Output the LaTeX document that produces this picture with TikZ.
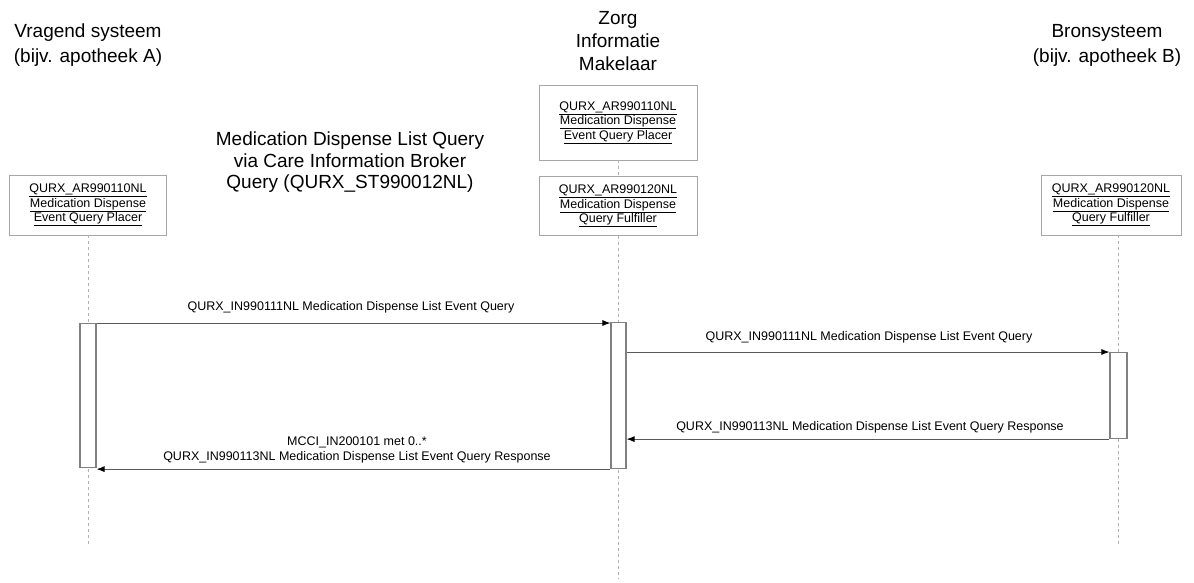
\documentclass[tikz,border=0pt]{standalone}
\usepackage{fontspec}
\setmainfont{Liberation Sans}
\usetikzlibrary{arrows.meta}
\usetikzlibrary{calc}

\tikzset{
  lifebox/.style={rectangle, draw=gray!70, line width=0.9pt, fill=white, inner sep=2pt,
    align=center, font=\fontsize{12.5}{14.5}\selectfont},
  actbar/.style={rectangle, draw=gray, line width=1.1pt, fill=white, minimum width=16pt, inner sep=0pt},
  lifeline/.style={draw=gray!60, line width=0.9pt, dash pattern=on 3pt off 3pt},
  msg/.style={draw=gray!70!black, line width=0.9pt, -{Latex[length=8pt, width=6pt, black]}},
  msglabel/.style={font=\fontsize{12.5}{15}\selectfont, inner sep=0pt},
  header/.style={align=center, inner sep=0pt, font=\fontsize{19}{25}\selectfont}
}

\begin{document}
\begin{tikzpicture}[x=1pt, y=-1pt]
\useasboundingbox (0,0) rectangle (1194,582);

% headers
\node[header, anchor=north] (hdrA) at (88,24) {Vragend systeem\\(bijv. apotheek A)};
\node[header, anchor=north, font=\fontsize{19}{23}\selectfont] (hdrZ) at (618,11) {Zorg\\Informatie\\Makelaar};
\node[header, anchor=north] (hdrB) at (1107,24) {Bronsysteem\\(bijv. apotheek B)};
\node[header, anchor=north, font=\fontsize{19}{21.5}\selectfont] (title) at (350,132)
  {Medication Dispense List Query\\via Care Information Broker\\Query (QURX\_ST990012NL)};

% roles
\node[lifebox, minimum width=157pt, minimum height=60pt] (boxA) at (88,205)
  {\underline{QURX\_AR990110NL}\\\underline{Medication Dispense}\\\underline{Event Query Placer}};
\node[lifebox, minimum width=158pt, minimum height=75pt] (boxZ1) at (618,122.5)
  {\underline{QURX\_AR990110NL}\\\underline{Medication Dispense}\\\underline{Event Query Placer}};
\node[lifebox, minimum width=158pt, minimum height=59pt] (boxZ2) at (618,206)
  {\underline{QURX\_AR990120NL}\\\underline{Medication Dispense}\\\underline{Query Fulfiller}};
\node[lifebox, minimum width=140pt, minimum height=60pt] (boxB) at (1111,205)
  {\underline{QURX\_AR990120NL}\\\underline{Medication Dispense}\\\underline{Query Fulfiller}};

\coordinate (endA) at (88,545);
\coordinate (endZ) at (618,578);
\coordinate (endB) at (1118,545);

% lifelines
\draw[lifeline] (boxA.south) -- (endA);
\draw[lifeline] (boxZ1.south) -- (boxZ2.north);
\draw[lifeline] (boxZ2.south) -- (endZ);
\draw[lifeline] (boxB.south -| endB) -- (endB);

% activations
\node[actbar, minimum height=144pt, anchor=north] (actA) at (88,323) {};
\node[actbar, minimum height=146pt, minimum width=15pt, anchor=north] (actZ) at (618.5,322) {};
\node[actbar, minimum height=86pt, minimum width=17pt, anchor=north] (actB) at (1118.5,352) {};

% messages
\draw[msg] (actA.north east) -- (actA.north east -| actZ.west);
\node[msglabel] (m1) at (351,307) {QURX\_IN990111NL Medication Dispense List Event Query};

\draw[msg] (actB.north west -| actZ.east) -- (actB.north west);
\node[msglabel] (m2) at (869,337) {QURX\_IN990111NL Medication Dispense List Event Query};

\draw[msg] (actB.south west) -- (actB.south west -| actZ.east);
\node[msglabel] (m3) at (870,427) {QURX\_IN990113NL Medication Dispense List Event Query Response};

\draw[msg] (actZ.south west) -- (actZ.south west -| actA.east);
\node[msglabel, align=center] (m4) at (357,450)
  {MCCI\_IN200101 met 0..*\\QURX\_IN990113NL Medication Dispense List Event Query Response};

\end{tikzpicture}
\end{document}
